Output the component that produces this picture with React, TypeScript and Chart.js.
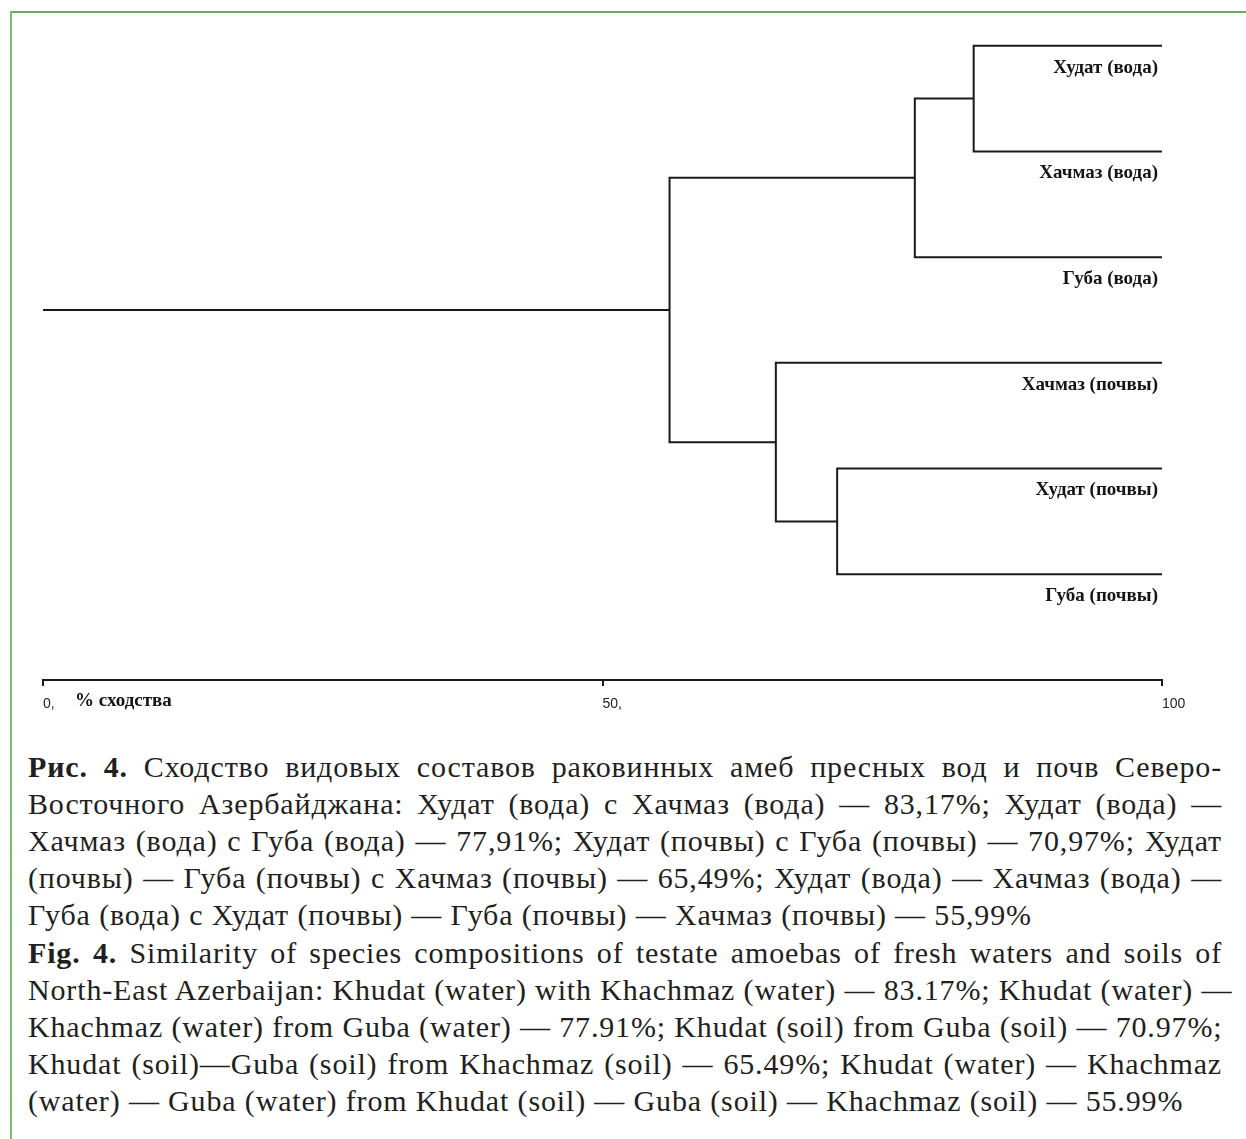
import React, { useEffect, useRef } from "react";
import { Chart, registerables } from "chart.js";

Chart.register(...registerables);

// ---------------- data ----------------
const leafLabels = [
  "Худат (вода)",
  "Хачмаз (вода)",
  "Губа (вода)",
  "Хачмаз (почвы)",
  "Худат (почвы)",
  "Губа (почвы)",
];
// merges: node ids 0..5 are leaves, merge k creates node 6+k
const mergeLeft = [0, 6, 4, 3, 7];
const mergeRight = [1, 2, 5, 8, 9];
const mergeSimilarity = [83.17, 77.91, 70.97, 65.49, 55.99];
const leafSimilarity = 100;
const axisTicks = [0, 50, 100];
const axisTickLabels = ["0,", "50,", "100"];
const axisTitle = "% сходства";

const captionRuBold = "Рис. 4.";
const captionRu = [
  " Сходство видовых составов раковинных амеб пресных вод и почв Северо-",
  "Восточного Азербайджана: Худат (вода) с Хачмаз (вода) — 83,17%; Худат (вода) —",
  "Хачмаз (вода) с Губа (вода) — 77,91%; Худат (почвы) с Губа (почвы) — 70,97%; Худат",
  "(почвы) — Губа (почвы) с Хачмаз (почвы) — 65,49%; Худат (вода) — Хачмаз (вода) —",
  "Губа (вода) с Худат (почвы) — Губа (почвы) — Хачмаз (почвы) — 55,99%",
];
const captionEnBold = "Fig. 4.";
const captionEn = [
  " Similarity of species compositions of testate amoebas of fresh waters and soils of",
  "North-East Azerbaijan: Khudat (water) with Khachmaz (water) — 83.17%; Khudat (water) —",
  "Khachmaz (water) from Guba (water) — 77.91%; Khudat (soil) from Guba (soil) — 70.97%;",
  "Khudat (soil)—Guba (soil) from Khachmaz (soil) — 65.49%; Khudat (water) — Khachmaz",
  "(water) — Guba (water) from Khudat (soil) — Guba (soil) — Khachmaz (soil) — 55.99%",
];

// ---------------- tree building ----------------
function buildDatasets() {
  const nodeX: number[] = leafLabels.map(() => leafSimilarity);
  const nodeY: number[] = leafLabels.map((_, i) => i);
  mergeSimilarity.forEach((s, k) => {
    nodeX.push(s);
    nodeY.push((nodeY[mergeLeft[k]] + nodeY[mergeRight[k]]) / 2);
  });
  const style = {
    showLine: true,
    borderColor: "#1a1a1a",
    borderWidth: 2,
    pointRadius: 0,
    pointHoverRadius: 0,
    fill: false,
    tension: 0,
    borderJoinStyle: "miter" as const,
  };
  const ds: any[] = mergeSimilarity.map((s, k) => {
    const a = mergeLeft[k];
    const b = mergeRight[k];
    return {
      ...style,
      label: "merge " + k,
      data: [
        { x: nodeX[a], y: nodeY[a] },
        { x: s, y: nodeY[a] },
        { x: s, y: nodeY[b] },
        { x: nodeX[b], y: nodeY[b] },
      ],
    };
  });
  const root = nodeX.length - 1;
  ds.push({
    ...style,
    label: "root",
    data: [
      { x: 0, y: nodeY[root] },
      { x: nodeX[root], y: nodeY[root] },
    ],
  });
  return ds;
}

const labelPlugin = {
  id: "leafLabels",
  afterDraw(chart: any) {
    const ctx = chart.ctx;
    const xs = chart.scales.x;
    const ys = chart.scales.y;
    ctx.save();
    ctx.fillStyle = "#151515";
    ctx.font = 'bold 19px "Liberation Serif"';
    ctx.textAlign = "right";
    ctx.textBaseline = "middle";
    leafLabels.forEach((l, i) => {
      ctx.fillText(l, xs.getPixelForValue(leafSimilarity) - 4, ys.getPixelForValue(i) + 22);
    });
    ctx.textAlign = "left";
    ctx.fillText(axisTitle, xs.getPixelForValue(0) + 32, chart.chartArea.bottom + 21);
    ctx.restore();
  },
};

function Dendrogram() {
  const ref = useRef<HTMLCanvasElement>(null);
  useEffect(() => {
    if (!ref.current) return;
    const chart = new Chart(ref.current, {
      type: "scatter",
      data: { datasets: buildDatasets() },
      options: {
        animation: false,
        responsive: false,
        devicePixelRatio: 1,
        layout: { padding: { left: 43, right: 84, top: 14, bottom: 0 } },
        plugins: { legend: { display: false }, tooltip: { enabled: false } },
        scales: {
          x: {
            type: "linear",
            min: 0,
            max: 100,
            afterBuildTicks: (s: any) => {
              s.ticks = axisTicks.map((v) => ({ value: v }));
            },
            afterFit: (s: any) => {
              s.height = 50;
            },
            ticks: {
              align: "start",
              color: "#222",
              padding: 10,
              font: { family: "Liberation Sans", size: 14 },
              callback: (v: any) => {
                const i = axisTicks.indexOf(Number(v));
                return i >= 0 ? axisTickLabels[i] : "";
              },
            },
            grid: {
              drawOnChartArea: false,
              drawTicks: true,
              tickLength: 6,
              color: "#1a1a1a",
              lineWidth: 2,
            },
            border: { display: true, color: "#1a1a1a", width: 2 },
          },
          y: {
            type: "linear",
            reverse: true,
            min: -0.3,
            max: 6,
            display: false,
          },
        },
      },
      plugins: [labelPlugin],
    });
    return () => chart.destroy();
  }, []);
  return (
    <canvas
      ref={ref}
      width={1246}
      height={730}
      style={{ position: "absolute", left: 0, top: 0, width: 1246, height: 730 }}
    />
  );
}

const lineStyle = (last: boolean): React.CSSProperties => ({
  height: 37,
  lineHeight: "37px",
  whiteSpace: "nowrap",
  textAlign: last ? "left" : "justify",
  textAlignLast: last ? "left" : "justify",
} as any);

function Caption({ bold, lines, top }: { bold: string; lines: string[]; top: number }) {
  return (
    <div
      style={{
        position: "absolute",
        left: 28,
        top,
        width: 1194,
        fontFamily: '"Liberation Serif", serif',
        fontSize: 30,
        letterSpacing: "0.85px",
        color: "#231f20",
      }}
    >
      {lines.map((l, i) => (
        <div key={i} style={lineStyle(i === lines.length - 1)}>
          {i === 0 ? <b>{bold}</b> : null}
          {l}
        </div>
      ))}
    </div>
  );
}

export default function App() {
  return (
    <div
      style={{
        position: "absolute",
        left: 0,
        top: 0,
        width: 1246,
        height: 1139,
        background: "#fff",
        overflow: "hidden",
      }}
    >
      <Dendrogram />
      <div style={{ position: "absolute", left: 10, top: 11, width: 1236, height: 2, background: "#6aab5c" }} />
      <div style={{ position: "absolute", left: 10, top: 11, width: 2, height: 1128, background: "#7cba6e" }} />
      <Caption bold={captionRuBold} lines={captionRu} top={748} />
      <Caption bold={captionEnBold} lines={captionEn} top={934} />
    </div>
  );
}
